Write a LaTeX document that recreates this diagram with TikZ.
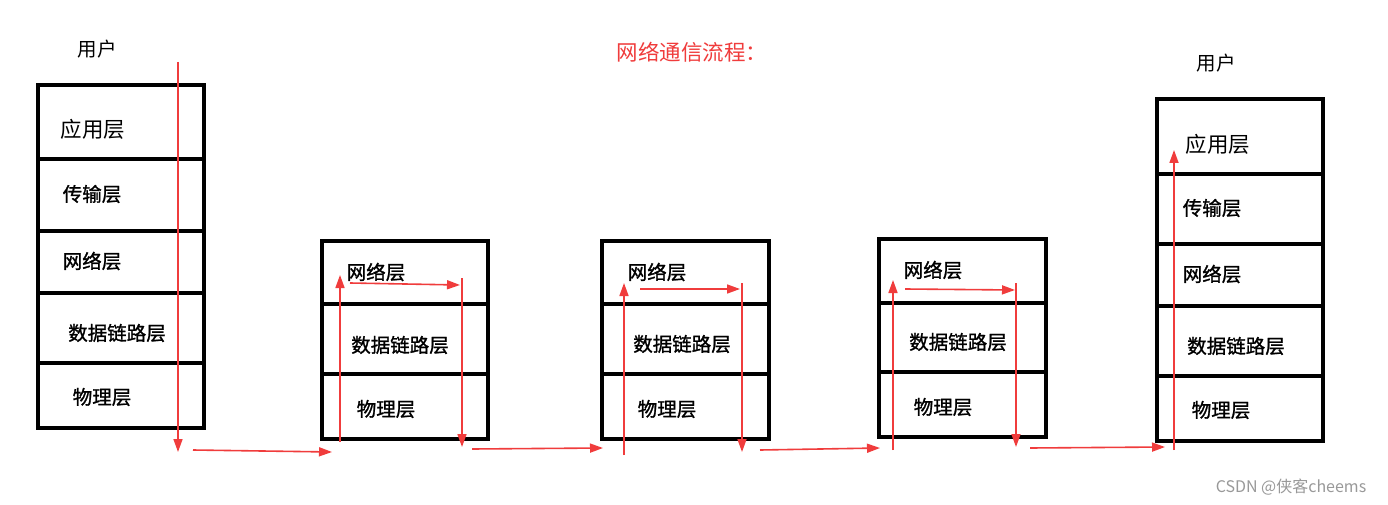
\documentclass[tikz,border=0pt]{standalone}
\usepackage{fontspec}
\newfontfamily\cjk{Noto Sans CJK SC}
\newfontfamily\cjkb{Noto Sans CJK SC}[FakeBold=1.2]
\usetikzlibrary{arrows.meta}
\definecolor{flowred}{RGB}{240,60,60}
\tikzset{
  cell/.style={draw=black,line width=3.2pt},
  lbl/.style={font=\cjkb\fontsize{19.5}{19.5}\selectfont},
  big/.style={font=\cjk\fontsize{21.5}{21.5}\selectfont},
  flow/.style={draw=flowred,line width=1.6pt,-{Triangle[length=13pt,width=9pt]}},
}
\begin{document}
\begin{tikzpicture}[x=1pt,y=-1pt]
  \useasboundingbox[fill=white] (0,0) rectangle (1388,505);
  % title
  \node[font=\cjk\fontsize{21.5}{21.5}\selectfont,text=flowred] (title) at (692,52) {网络通信流程：};
  % sending host
  \node[lbl,font=\cjk\fontsize{19.5}{19.5}\selectfont] (userA) at (97,49) {用户};
  \draw[cell] (38,85) rectangle (204,428);
  \foreach \y in {159,231,293,363} \draw[cell] (38,\y) -- (204,\y);
  \node[big] (appA) at (93,129) {应用层};
  \node[lbl] (tranA) at (92,194) {传输层};
  \node[lbl] (netA) at (92,261) {网络层};
  \node[lbl] (linkA) at (117,333) {数据链路层};
  \node[lbl] (phyA) at (102,397) {物理层};
  % router 1
  \draw[cell] (322,241) rectangle (488,439);
  \foreach \y in {304,374} \draw[cell] (322,\y) -- (488,\y);
  \node[lbl] (netB) at (376,272) {网络层};
  \node[lbl] (linkB) at (400,345) {数据链路层};
  \node[lbl] (phyB) at (386,409) {物理层};
  % router 2
  \draw[cell] (602,241) rectangle (769,439);
  \foreach \y in {304,374} \draw[cell] (602,\y) -- (769,\y);
  \node[lbl] (netC) at (657,272) {网络层};
  \node[lbl] (linkC) at (682,344) {数据链路层};
  \node[lbl] (phyC) at (667,409) {物理层};
  % router 3
  \draw[cell] (879,239) rectangle (1046,437);
  \foreach \y in {303,372} \draw[cell] (879,\y) -- (1046,\y);
  \node[lbl] (netD) at (933,270) {网络层};
  \node[lbl] (linkD) at (958,342) {数据链路层};
  \node[lbl] (phyD) at (943,407) {物理层};
  % receiving host
  \node[lbl,font=\cjk\fontsize{19.5}{19.5}\selectfont] (userE) at (1216,63) {用户};
  \draw[cell] (1157,99) rectangle (1323,441);
  \foreach \y in {174,244,306,376} \draw[cell] (1157,\y) -- (1323,\y);
  \node[big] (appE) at (1218,144) {应用层};
  \node[lbl] (tranE) at (1212,208) {传输层};
  \node[lbl] (netE) at (1212,274) {网络层};
  \node[lbl] (linkE) at (1236,346) {数据链路层};
  \node[lbl] (phyE) at (1221,410) {物理层};
  % path of the data
  \coordinate (a0) at (178,62);   \coordinate (a1) at (178,452);
  \coordinate (h1s) at (193,450); \coordinate (h1e) at (332,452);
  \coordinate (b0) at (340,442);  \coordinate (b1) at (340,275);
  \coordinate (b2) at (350,283);  \coordinate (b3) at (460,285);
  \coordinate (b4) at (462,278);  \coordinate (b5) at (462,447);
  \coordinate (h2s) at (472,449); \coordinate (h2e) at (603,448);
  \coordinate (c0) at (624,455);  \coordinate (c1) at (624,283);
  \coordinate (c2) at (640,289);  \coordinate (c3) at (740,289);
  \coordinate (c4) at (742,283);  \coordinate (c5) at (742,452);
  \coordinate (h3s) at (760,450); \coordinate (h3e) at (880,448);
  \coordinate (d0) at (893,450);  \coordinate (d1) at (893,280);
  \coordinate (d2) at (905,289);  \coordinate (d3) at (1015,290);
  \coordinate (d4) at (1016,283); \coordinate (d5) at (1016,447);
  \coordinate (h4s) at (1030,448); \coordinate (h4e) at (1165,447);
  \coordinate (e0) at (1174,450); \coordinate (e1) at (1174,150);
  \draw[flow] (a0) -- (a1);
  \draw[flow] (h1s) -- (h1e);
  \draw[flow] (b0) -- (b1);
  \draw[flow] (b2) -- (b3);
  \draw[flow] (b4) -- (b5);
  \draw[flow] (h2s) -- (h2e);
  \draw[flow] (c0) -- (c1);
  \draw[flow] (c2) -- (c3);
  \draw[flow] (c4) -- (c5);
  \draw[flow] (h3s) -- (h3e);
  \draw[flow] (d0) -- (d1);
  \draw[flow] (d2) -- (d3);
  \draw[flow] (d4) -- (d5);
  \draw[flow] (h4s) -- (h4e);
  \draw[flow] (e0) -- (e1);
  % watermark
  \node[font=\cjk\fontsize{16}{16}\selectfont,text=black!40] (mark) at (1291,487) {CSDN @侠客cheems};
\end{tikzpicture}
\end{document}
